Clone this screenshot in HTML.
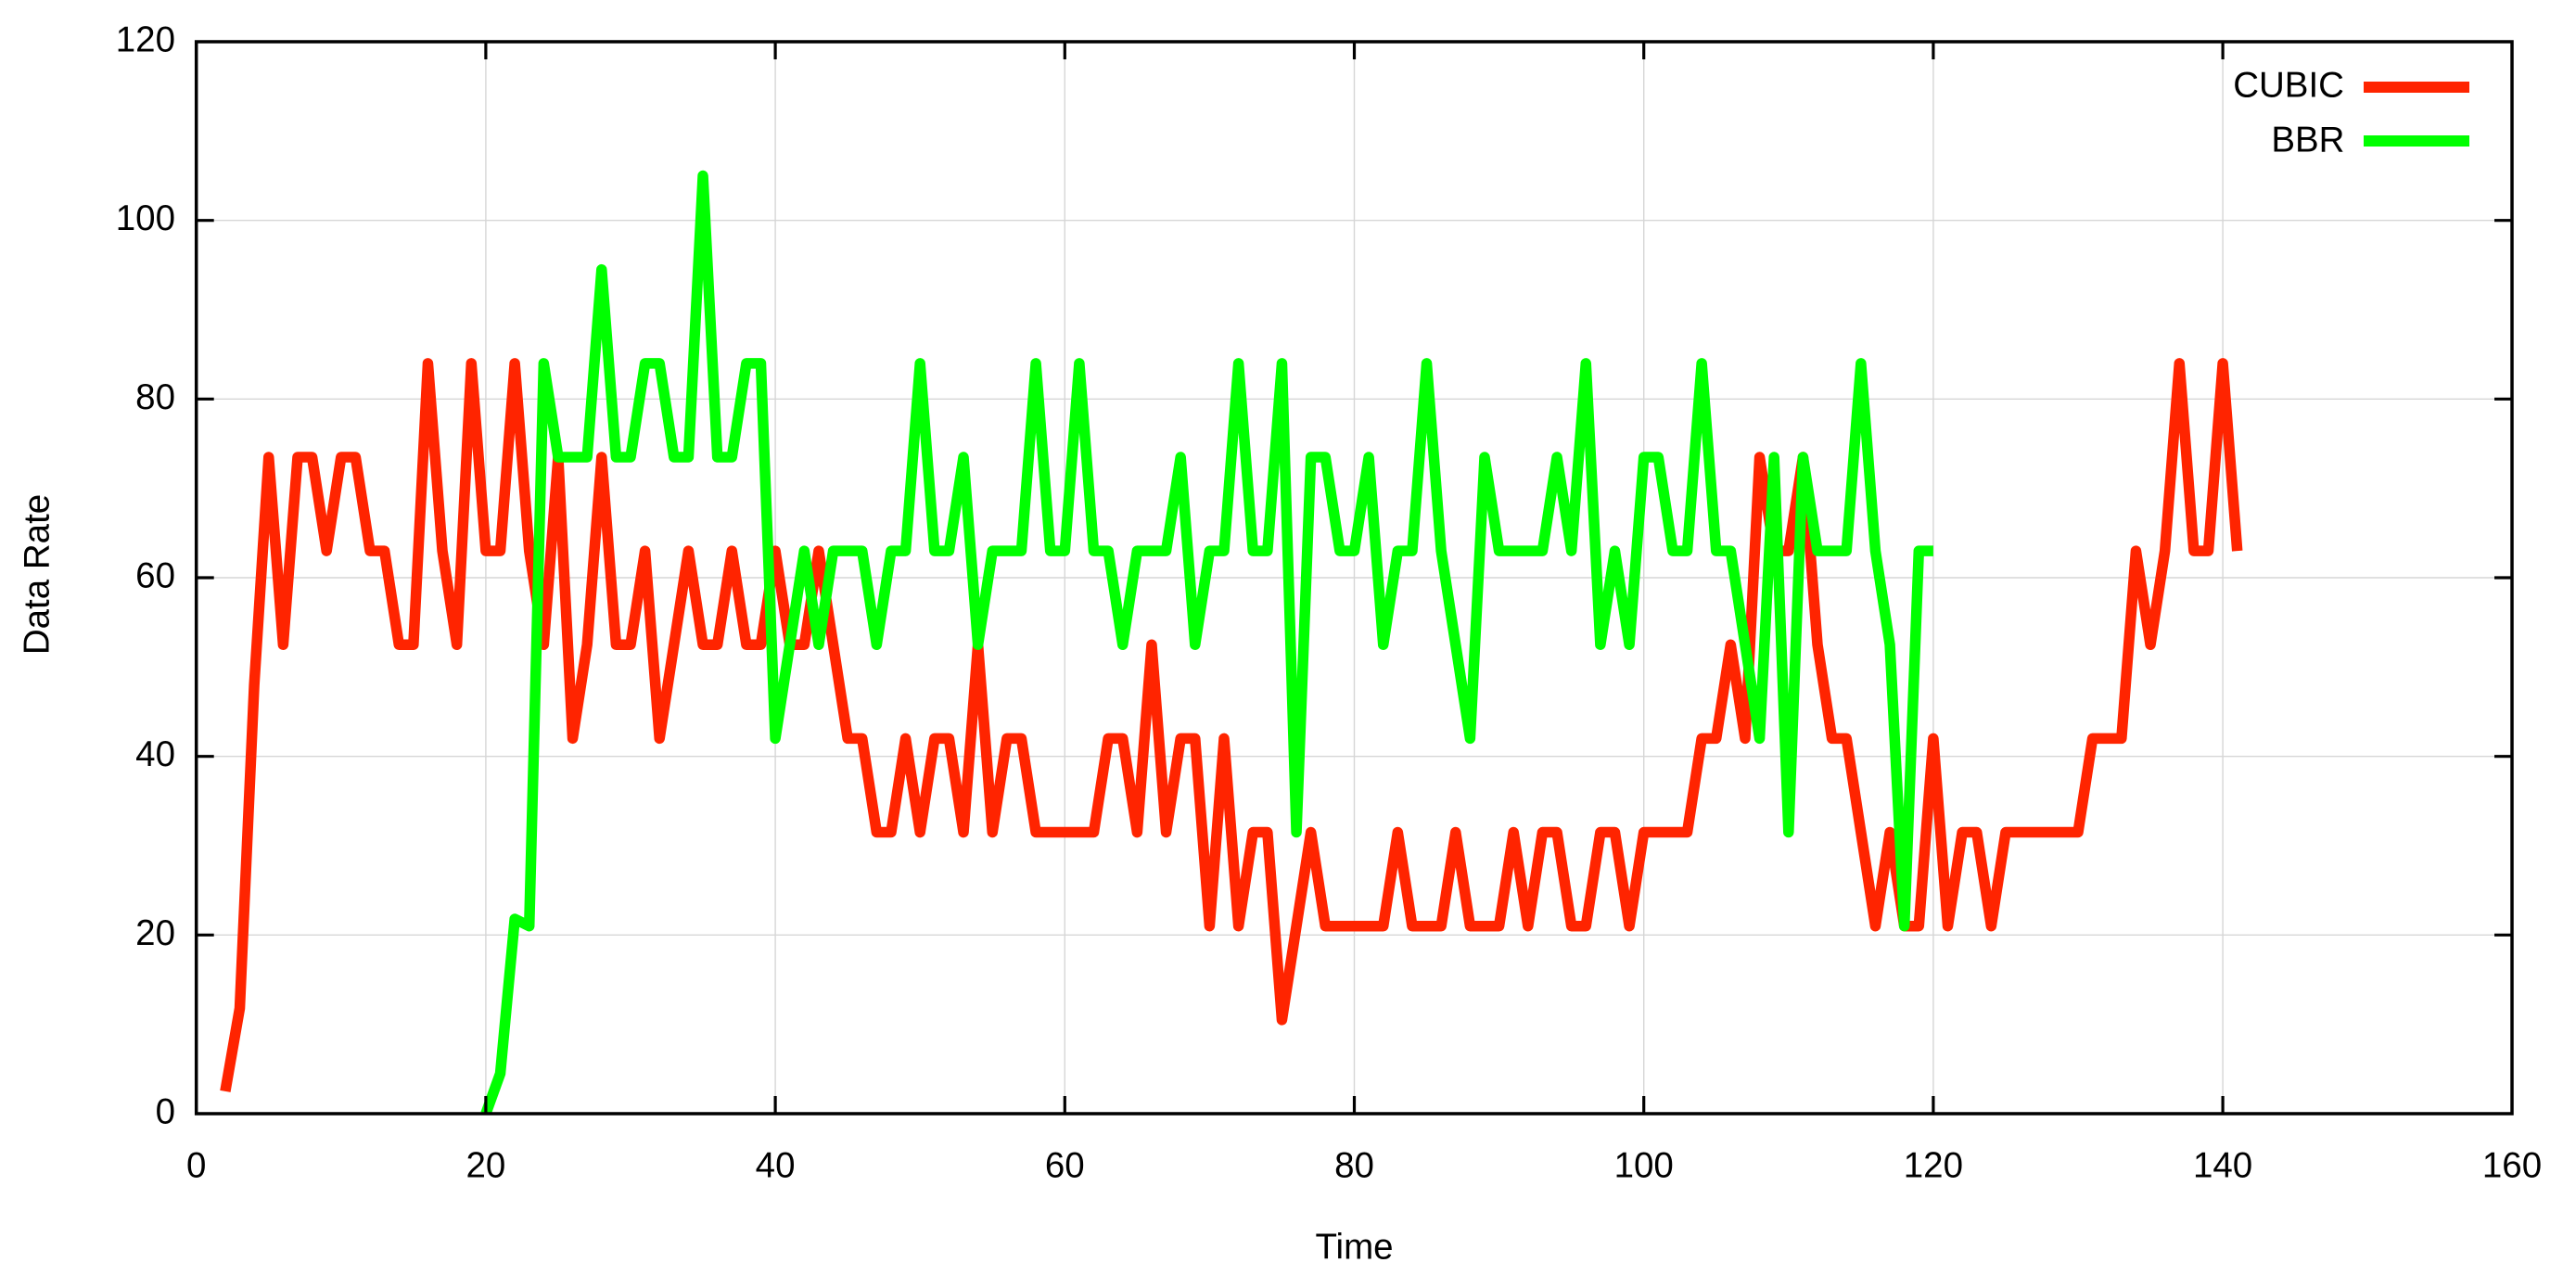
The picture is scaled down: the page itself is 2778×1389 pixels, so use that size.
<!DOCTYPE html>
<html>
<head>
<meta charset="utf-8">
<style>
  html, body { margin: 0; padding: 0; background: #ffffff; }
  body { width: 2778px; height: 1389px; overflow: hidden; }
  svg { display: block; }
  text { font-family: "Liberation Sans", Arial, Helvetica, sans-serif; font-size: 38.5px; fill: #000; }
</style>
</head>
<body>
<svg width="2778" height="1389" viewBox="0 0 2778 1389" xmlns="http://www.w3.org/2000/svg">
  <rect x="0" y="0" width="2778" height="1389" fill="#ffffff"/>
  <defs>
    <clipPath id="plot">
      <rect x="211.7" y="45" width="2497.3" height="1156"/>
    </clipPath>
  </defs>

  <!-- grid -->
  <g stroke="#d6d6d6" stroke-width="1.4" fill="none">
    <line x1="523.9" y1="45" x2="523.9" y2="1201"/>
    <line x1="836.1" y1="45" x2="836.1" y2="1201"/>
    <line x1="1148.3" y1="45" x2="1148.3" y2="1201"/>
    <line x1="1460.5" y1="45" x2="1460.5" y2="1201"/>
    <line x1="1772.7" y1="45" x2="1772.7" y2="1201"/>
    <line x1="2084.9" y1="45" x2="2084.9" y2="1201"/>
    <line x1="2397.1" y1="45" x2="2397.1" y2="1201"/>
    <line x1="211.7" y1="1008.3" x2="2709" y2="1008.3"/>
    <line x1="211.7" y1="815.7" x2="2709" y2="815.7"/>
    <line x1="211.7" y1="623.0" x2="2709" y2="623.0"/>
    <line x1="211.7" y1="430.3" x2="2709" y2="430.3"/>
    <line x1="211.7" y1="237.7" x2="2709" y2="237.7"/>
  </g>

  <!-- series -->
  <g clip-path="url(#plot)">
    <g transform="translate(211.7,1201) scale(15.61,-9.633)">
      <polyline fill="none" stroke="#ff2400" stroke-width="11.5" stroke-linejoin="round" stroke-linecap="butt" vector-effect="non-scaling-stroke"
        points="2,2.5 3,11.8 4,48 5,73.5 6,52.5 7,73.5 8,73.5 9,63 10,73.5 11,73.5 12,63 13,63 14,52.5 15,52.5 16,84 17,63 18,52.5 19,84 20,63 21,63 22,84 23,63 24,52.5 25,73.5 26,42 27,52.5 28,73.5 29,52.5 30,52.5 31,63 32,42 33,52.5 34,63 35,52.5 36,52.5 37,63 38,52.5 39,52.5 40,63 41,52.5 42,52.5 43,63 44,52.5 45,42 46,42 47,31.5 48,31.5 49,42 50,31.5 51,42 52,42 53,31.5 54,52.5 55,31.5 56,42 57,42 58,31.5 59,31.5 60,31.5 61,31.5 62,31.5 63,42 64,42 65,31.5 66,52.5 67,31.5 68,42 69,42 70,21 71,42 72,21 73,31.5 74,31.5 75,10.5 76,21 77,31.5 78,21 79,21 80,21 81,21 82,21 83,31.5 84,21 85,21 86,21 87,31.5 88,21 89,21 90,21 91,31.5 92,21 93,31.5 94,31.5 95,21 96,21 97,31.5 98,31.5 99,21 100,31.5 101,31.5 102,31.5 103,31.5 104,42 105,42 106,52.5 107,42 108,73.5 109,63 110,63 111,73.5 112,52.5 113,42 114,42 115,31.5 116,21 117,31.5 118,21 119,21 120,42 121,21 122,31.5 123,31.5 124,21 125,31.5 126,31.5 127,31.5 128,31.5 129,31.5 130,31.5 131,42 132,42 133,42 134,63 135,52.5 136,63 137,84 138,63 139,63 140,84 141,63"/>
      <polyline fill="none" stroke="#00ff00" stroke-width="11.5" stroke-linejoin="round" stroke-linecap="butt" vector-effect="non-scaling-stroke"
        points="20,0 21,4.5 22,21.8 23,21 24,84 25,73.5 26,73.5 27,73.5 28,94.5 29,73.5 30,73.5 31,84 32,84 33,73.5 34,73.5 35,105 36,73.5 37,73.5 38,84 39,84 40,42 41,52.5 42,63 43,52.5 44,63 45,63 46,63 47,52.5 48,63 49,63 50,84 51,63 52,63 53,73.5 54,52.5 55,63 56,63 57,63 58,84 59,63 60,63 61,84 62,63 63,63 64,52.5 65,63 66,63 67,63 68,73.5 69,52.5 70,63 71,63 72,84 73,63 74,63 75,84 76,31.5 77,73.5 78,73.5 79,63 80,63 81,73.5 82,52.5 83,63 84,63 85,84 86,63 87,52.5 88,42 89,73.5 90,63 91,63 92,63 93,63 94,73.5 95,63 96,84 97,52.5 98,63 99,52.5 100,73.5 101,73.5 102,63 103,63 104,84 105,63 106,63 107,52.5 108,42 109,73.5 110,31.5 111,73.5 112,63 113,63 114,63 115,84 116,63 117,52.5 118,21 119,63 120,63"/>
    </g>
  </g>

  <!-- ticks -->
  <g stroke="#000" stroke-width="3.2">
    <line x1="523.9" y1="1201" x2="523.9" y2="1182"/>
    <line x1="836.1" y1="1201" x2="836.1" y2="1182"/>
    <line x1="1148.3" y1="1201" x2="1148.3" y2="1182"/>
    <line x1="1460.5" y1="1201" x2="1460.5" y2="1182"/>
    <line x1="1772.7" y1="1201" x2="1772.7" y2="1182"/>
    <line x1="2084.9" y1="1201" x2="2084.9" y2="1182"/>
    <line x1="2397.1" y1="1201" x2="2397.1" y2="1182"/>
    <line x1="523.9" y1="45" x2="523.9" y2="64"/>
    <line x1="836.1" y1="45" x2="836.1" y2="64"/>
    <line x1="1148.3" y1="45" x2="1148.3" y2="64"/>
    <line x1="1460.5" y1="45" x2="1460.5" y2="64"/>
    <line x1="1772.7" y1="45" x2="1772.7" y2="64"/>
    <line x1="2084.9" y1="45" x2="2084.9" y2="64"/>
    <line x1="2397.1" y1="45" x2="2397.1" y2="64"/>
    <line x1="211.7" y1="1008.3" x2="230.7" y2="1008.3"/>
    <line x1="211.7" y1="815.7" x2="230.7" y2="815.7"/>
    <line x1="211.7" y1="623.0" x2="230.7" y2="623.0"/>
    <line x1="211.7" y1="430.3" x2="230.7" y2="430.3"/>
    <line x1="211.7" y1="237.7" x2="230.7" y2="237.7"/>
    <line x1="2709" y1="1008.3" x2="2690" y2="1008.3"/>
    <line x1="2709" y1="815.7" x2="2690" y2="815.7"/>
    <line x1="2709" y1="623.0" x2="2690" y2="623.0"/>
    <line x1="2709" y1="430.3" x2="2690" y2="430.3"/>
    <line x1="2709" y1="237.7" x2="2690" y2="237.7"/>
  </g>

  <!-- axes border -->
  <rect x="211.7" y="45" width="2497.3" height="1156" fill="none" stroke="#000" stroke-width="3.5"/>

  <!-- y tick labels -->
  <g text-anchor="end">
    <text x="189" y="1211.5">0</text>
    <text x="189" y="1018.8">20</text>
    <text x="189" y="826.2">40</text>
    <text x="189" y="633.5">60</text>
    <text x="189" y="440.8">80</text>
    <text x="189" y="248.2">100</text>
    <text x="189" y="55.5">120</text>
  </g>

  <!-- x tick labels -->
  <g text-anchor="middle">
    <text x="211.7" y="1269.5">0</text>
    <text x="523.9" y="1269.5">20</text>
    <text x="836.1" y="1269.5">40</text>
    <text x="1148.3" y="1269.5">60</text>
    <text x="1460.5" y="1269.5">80</text>
    <text x="1772.7" y="1269.5">100</text>
    <text x="2084.9" y="1269.5">120</text>
    <text x="2397.1" y="1269.5">140</text>
    <text x="2709" y="1269.5">160</text>
  </g>

  <!-- axis titles -->
  <text x="1460.5" y="1357.7" text-anchor="middle">Time</text>
  <text transform="translate(52.7,619.5) rotate(-90)" text-anchor="middle">Data Rate</text>

  <!-- legend -->
  <text x="2528" y="104.3" text-anchor="end">CUBIC</text>
  <line x1="2549" y1="94" x2="2663" y2="94" stroke="#ff2400" stroke-width="12"/>
  <text x="2528.5" y="163.3" text-anchor="end">BBR</text>
  <line x1="2549" y1="152" x2="2663" y2="152" stroke="#00ff00" stroke-width="12"/>
</svg>
</body>
</html>
